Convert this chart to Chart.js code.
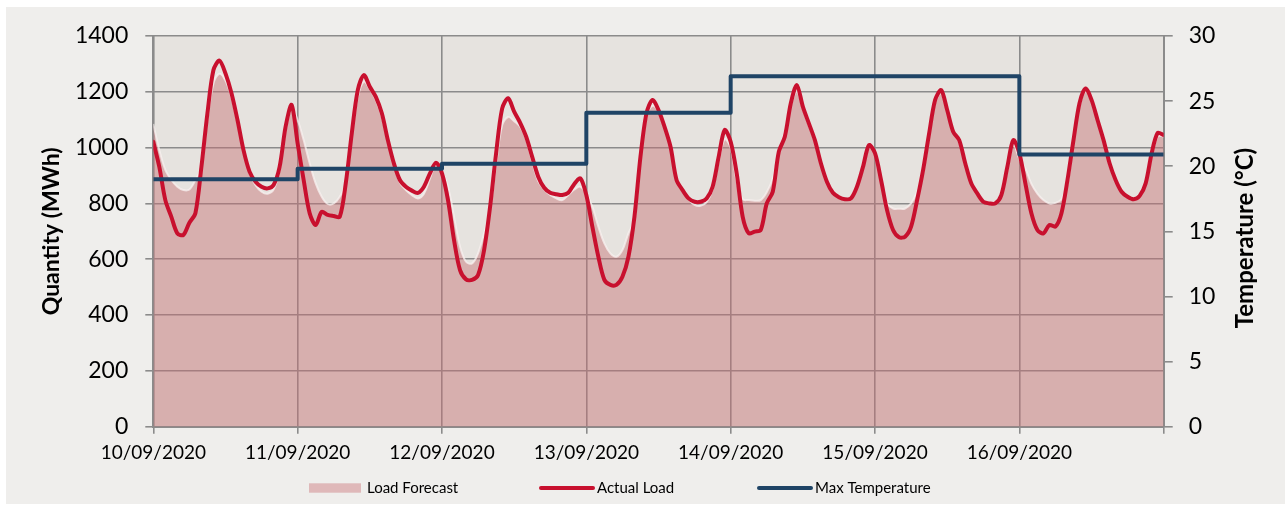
<!DOCTYPE html>
<html>
<head>
<meta charset="utf-8">
<script src="https://cdn.jsdelivr.net/npm/chart.js@4"></script>
<style>
  html, body { margin: 0; padding: 0; background: #fff; }
  canvas { display: block; }
</style>
</head>
<body>
<canvas id="myChart" width="1285" height="507"></canvas>
<script>
// dates shown under the day ticks (one per 24 hours)
var days = ['10/09/2020', '11/09/2020', '12/09/2020', '13/09/2020', '14/09/2020', '15/09/2020', '16/09/2020'];

// hourly values, hour 0 = 10/09/2020 00:00
var loadForecast = [
    1085, 991, 920, 884, 860, 848, 850, 884, 930, 1100, 1230, 1265, 1240, 1180, 1090, 990, 910, 865, 842, 835, 850, 920, 1060, 1140,
    1099, 1027, 944, 872, 824, 798, 800, 824, 872, 1040, 1180, 1236, 1210, 1170, 1110, 1020, 940, 875, 848, 830, 818, 835, 890, 940,
    915, 860, 752, 645, 591, 585, 621, 693, 780, 940, 1080, 1110, 1095, 1075, 1030, 950, 880, 850, 830, 818, 812, 830, 850, 860,
    836, 788, 717, 657, 621, 609, 633, 693, 740, 960, 1110, 1150, 1130, 1070, 1000, 890, 848, 815, 795, 792, 805, 850, 950, 1030,
    1000, 880, 815, 812, 810, 812, 840, 890, 980, 1060, 1150, 1200, 1140, 1080, 1020, 940, 875, 838, 820, 815, 818, 855, 925, 1000,
    980, 880, 800, 782, 781, 782, 800, 842, 910, 1040, 1160, 1195, 1130, 1060, 1020, 940, 870, 835, 805, 798, 800, 830, 920, 1010,
    960, 925, 870, 835, 812, 800, 802, 815, 870, 1020, 1150, 1200, 1165, 1095, 1020, 940, 880, 842, 824, 815, 827, 870, 970, 1040,
    1040
];
var actualLoad = [
    1021, 931, 812, 752, 693, 687, 731, 765, 931, 1123, 1278, 1312, 1266, 1195, 1099, 991, 914, 878, 860, 854, 866, 931, 1075, 1153,
    1015, 884, 765, 723, 770, 759, 755, 752, 872, 1051, 1206, 1260, 1218, 1182, 1123, 1027, 944, 884, 860, 846, 838, 860, 908, 946,
    908, 812, 669, 561, 528, 526, 544, 633, 788, 980, 1140, 1177, 1129, 1089, 1039, 967, 896, 856, 838, 833, 830, 838, 870, 890,
    830, 717, 609, 526, 508, 508, 537, 609, 752, 967, 1123, 1171, 1135, 1075, 1003, 884, 848, 818, 806, 806, 818, 860, 967, 1063,
    1021, 908, 752, 693, 699, 705, 800, 842, 985, 1039, 1159, 1224, 1147, 1087, 1027, 944, 878, 838, 822, 815, 818, 860, 931, 1009,
    980, 884, 776, 705, 679, 681, 717, 812, 920, 1051, 1171, 1206, 1135, 1057, 1027, 944, 872, 836, 806, 800, 800, 830, 931, 1027,
    980, 872, 765, 705, 693, 723, 717, 765, 884, 1027, 1159, 1212, 1171, 1099, 1027, 944, 884, 842, 824, 815, 827, 872, 980, 1053,
    1045
];
// one maximum temperature per day
var maxTemperature = [19.0, 19.8, 20.2, 24.1, 26.9, 26.9, 20.9];

var qtyTicks = { min: 0, max: 1400, step: 200 };
var tempTicks = { min: 0, max: 30, step: 5 };

var hours = actualLoad.map(function (v, i) { return i; });
var tempPoints = maxTemperature.map(function (t, d) { return { x: d * 24, y: t }; });
tempPoints.push({ x: days.length * 24, y: maxTemperature[maxTemperature.length - 1] });

var FONT = 'Lato, "Open Sans", sans-serif';
var gridGray = '#8b8b8b';

var background = {
    id: 'background',
    beforeDraw: function (chart) {
        var c = chart.ctx, a = chart.chartArea;
        c.save();
        c.fillStyle = '#ffffff';
        c.fillRect(0, 0, chart.width, chart.height);
        c.fillStyle = '#efeeec';
        c.fillRect(6, 7, chart.width - 6, chart.height - 10);
        c.fillStyle = '#e6e3df';
        c.fillRect(a.left, a.top, a.right - a.left, a.bottom - a.top);
        c.restore();
    },
    afterDraw: function (chart) {
        var c = chart.ctx;
        c.save();
        // right axis title, reading bottom to top like the left one
        c.translate(1245, 238);
        c.rotate(-Math.PI / 2);
        c.font = 'bold 24px ' + FONT;
        c.fillStyle = '#000';
        c.textAlign = 'center';
        c.textBaseline = 'middle';
        c.fillText('Temperature (\u00b0C)', 0, 0);
        c.restore();

        // legend
        var ds = chart.data.datasets;
        var starts = [309, 539, 757];
        var y = 488;
        c.save();
        c.font = '15px ' + FONT;
        ds.forEach(function (d, i) {
            var x = starts[i];
            if (d.fill) {
                c.fillStyle = '#dfb8b9';
                c.fillRect(x, y - 4.7, 52, 9.4);
                x += 58;
            } else {
                c.strokeStyle = d.borderColor;
                c.lineWidth = 4;
                c.lineCap = 'round';
                c.beginPath();
                c.moveTo(x + 2, y);
                c.lineTo(x + 54, y);
                c.stroke();
                x += 58;
            }
            c.fillStyle = '#000';
            c.textBaseline = 'middle';
            c.fillText(d.label, x, y);
        });
        c.restore();
    }
};

var ctx = document.getElementById('myChart').getContext('2d');
var myChart = new Chart(ctx, {
    type: 'line',
    data: {
        labels: hours,
        datasets: [{
            label: 'Load Forecast',
            data: loadForecast,
            yAxisID: 'y',
            fill: 'origin',
            backgroundColor: 'rgba(198,110,115,0.45)',
            borderColor: 'rgba(248,242,240,0.75)',
            borderWidth: 2,
            pointRadius: 0,
            tension: 0.35,
            order: 3
        }, {
            label: 'Actual Load',
            data: actualLoad,
            yAxisID: 'y',
            fill: false,
            borderColor: '#c8102e',
            borderWidth: 4,
            borderJoinStyle: 'round',
            borderCapStyle: 'round',
            pointRadius: 0,
            tension: 0.3,
            order: 2
        }, {
            label: 'Max Temperature',
            data: tempPoints,
            yAxisID: 'y1',
            fill: false,
            borderColor: '#1f4466',
            borderWidth: 4,
            borderJoinStyle: 'round',
            pointRadius: 0,
            stepped: 'before',
            tension: 0,
            order: 1
        }]
    },
    options: {
        responsive: false,
        animation: false,
        events: [],
        layout: { padding: { top: 36, left: 0, right: 0, bottom: 0 } },
        plugins: {
            legend: { display: false },
            tooltip: { enabled: false }
        },
        scales: {
            x: {
                type: 'linear',
                min: 0,
                max: days.length * 24,
                afterFit: function (s) { s.height = 80.3; },
                afterBuildTicks: function (s) {
                    s.ticks = [];
                    for (var d = 0; d <= days.length; d++) s.ticks.push({ value: d * 24 });
                },
                ticks: {
                    autoSkip: false,
                    maxRotation: 0,
                    padding: 8,
                    color: '#000',
                    font: { family: FONT, size: 19 },
                    callback: function (v) { return days[v / 24] || ''; }
                },
                grid: { color: gridGray, lineWidth: 1.6, tickLength: 7, tickColor: gridGray },
                border: { color: gridGray, width: 2 }
            },
            y: {
                position: 'left',
                min: qtyTicks.min,
                max: qtyTicks.max,
                afterFit: function (s) { s.width = 153.3; },
                ticks: {
                    stepSize: qtyTicks.step,
                    padding: 17,
                    color: '#000',
                    font: { family: FONT, size: 23 },
                    callback: function (v) { return String(v); }
                },
                title: {
                    display: true,
                    text: 'Quantity (MWh)',
                    color: '#000',
                    font: { family: FONT, size: 23, weight: 'bold' },
                    padding: { top: 38, bottom: 0 }
                },
                grid: { color: gridGray, lineWidth: 1.6, tickLength: 8, tickColor: gridGray },
                border: { color: gridGray, width: 2 }
            },
            y1: {
                position: 'right',
                min: tempTicks.min,
                max: tempTicks.max,
                afterFit: function (s) { s.width = 1285 - 1163.7; },
                ticks: {
                    stepSize: tempTicks.step,
                    padding: 16,
                    color: '#000',
                    font: { family: FONT, size: 23 },
                    callback: function (v) { return String(v); }
                },
                grid: { drawOnChartArea: false, color: gridGray, lineWidth: 1.6, tickLength: 9, tickColor: gridGray },
                border: { color: gridGray, width: 2 }
            }
        }
    },
    plugins: [background]
});
</script>
</body>
</html>
